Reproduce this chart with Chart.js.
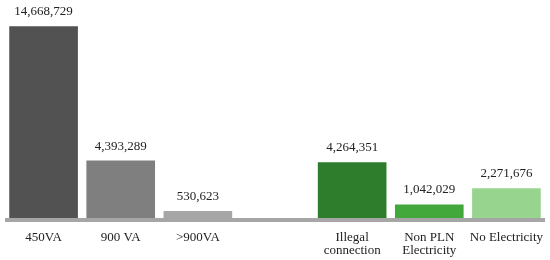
<!DOCTYPE html>
<html>
<head>
<meta charset="utf-8">
<script src="https://cdn.jsdelivr.net/npm/chart.js@4"></script>
<style>
  html, body { margin: 0; padding: 0; background: #fff; }
  #wrap { width: 550px; height: 260px; position: relative; }
</style>
</head>
<body>
<div id="wrap"><canvas id="elecChart"></canvas></div>
<script>
// categories (empty slot keeps the gap between the two groups)
const categories = ['450VA', '900 VA', '>900VA', '', ['Illegal', 'connection'], ['Non PLN', 'Electricity'], 'No Electricity'];
const households = [14668729, 4393289, 530623, null, 4264351, 1042029, 2271676];
const barColors = ['#525252', '#7f7f7f', '#a6a6a6', '#ffffff', '#2e7d2c', '#42a83b', '#97d48d'];

const fontFamily = '"Liberation Serif", "DejaVu Serif", serif';

// value labels above bars + thick baseline under the bars
const decorations = {
    id: 'decorations',
    afterDatasetsDraw(chart) {
        const ctx = chart.ctx;
        const area = chart.chartArea;
        ctx.save();
        ctx.fillStyle = '#a6a6a6';
        ctx.fillRect(area.left, area.bottom, area.right - area.left, 4);
        ctx.fillStyle = '#222';
        ctx.font = '13px ' + fontFamily;
        ctx.textAlign = 'center';
        ctx.textBaseline = 'bottom';
        chart.getDatasetMeta(0).data.forEach((bar, i) => {
            const v = households[i];
            if (v == null) return;
            ctx.fillText(v.toLocaleString('en-US'), bar.x, bar.y - 8);
        });
        ctx.restore();
    }
};

const ctx = document.getElementById('elecChart').getContext('2d');
new Chart(ctx, {
    type: 'bar',
    data: {
        labels: categories,
        datasets: [{
            data: households,
            backgroundColor: barColors,
            barPercentage: 0.89,
            categoryPercentage: 1.0
        }]
    },
    options: {
        responsive: true,
        maintainAspectRatio: false,
        animation: false,
        layout: { padding: { top: 22, left: 5, right: 5, bottom: 0 } },
        plugins: {
            legend: { display: false },
            tooltip: { enabled: false }
        },
        scales: {
            x: {
                grid: { display: false },
                border: { display: false },
                afterFit(scale) { scale.height = 42; },
                ticks: {
                    color: '#222',
                    padding: 5,
                    maxRotation: 0,
                    autoSkip: false,
                    font: { family: fontFamily, size: 13, lineHeight: 1.0 }
                }
            },
            y: {
                display: false,
                min: 0,
                max: 15000000
            }
        }
    },
    plugins: [decorations]
});
</script>
</body>
</html>
